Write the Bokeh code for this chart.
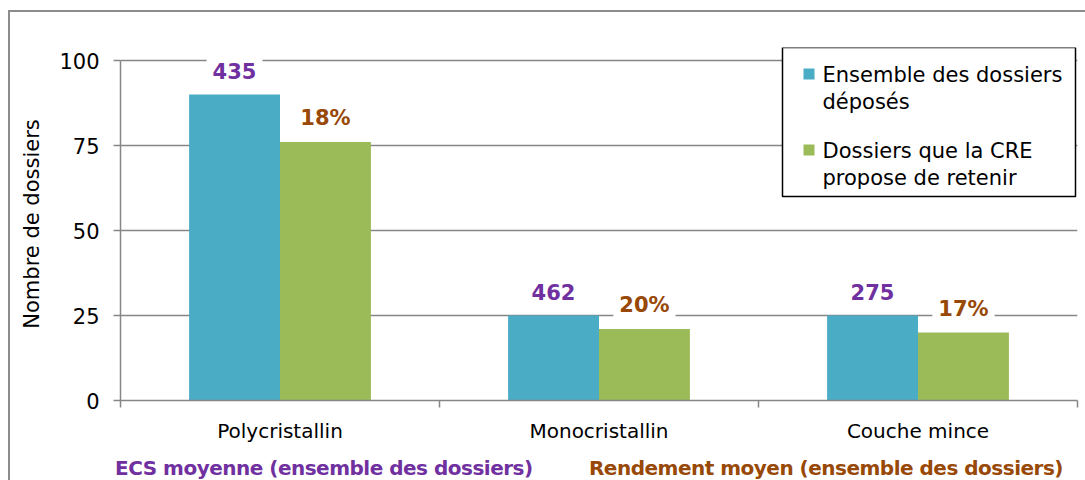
from bokeh.plotting import figure
from bokeh.models import Range1d, FixedTicker, Label, BoxAnnotation, Div
from bokeh.layouts import column
from bokeh.embed import file_html
from bokeh.resources import INLINE

# ---- data ----
categories = ["Polycristallin", "Monocristallin", "Couche mince"]
deposes = [90, 25, 25]          # Ensemble des dossiers déposés
retenus = [76, 21, 20]          # Dossiers que la CRE propose de retenir
ecs_labels = ["435", "462", "275"]
rendement_labels = ["18%", "20%", "17%"]
y_ticks = [0, 25, 50, 75, 100]
legend_lines = [["Ensemble des dossiers", "déposés"], ["Dossiers que la CRE", "propose de retenir"]]
footer_left = "ECS moyenne (ensemble des dossiers)"
footer_right = "Rendement moyen (ensemble des dossiers)"

TEAL = "#4BACC6"
GREEN = "#9BBB59"
PURPLE = "#7030A0"
BROWN = "#984807"
GRID = "#868686"
FONT = "DejaVu Sans"

# ---- layout ----
W, H = 1075, 433
ML, MR, MT, MB = 110, 8, 35, 45
frame_w = W - ML - MR
frame_h = H - MT - MB
px_per_unit_y = 340 / 100.0          # 100 units -> 340 px
ymax = frame_h / px_per_unit_y
ncat = len(categories)
px_per_cat = frame_w / ncat

def dx(px):  # px from frame left -> data x
    return px / px_per_cat

def dy(px):  # px from frame bottom (positive up) -> data y
    return px / px_per_unit_y

p = figure(width=W, height=H, output_backend="svg", toolbar_location=None,
           x_range=Range1d(0, ncat), y_range=Range1d(0, ymax),
           min_border_left=ML, min_border_right=MR, min_border_top=MT, min_border_bottom=MB)
p.outline_line_color = None
p.background_fill_color = "white"
p.border_fill_color = "white"

bar_w = 0.285
centers = [i + 0.5 for i in range(ncat)]
x_dep = [c - bar_w / 2 for c in centers]
x_ret = [c + bar_w / 2 for c in centers]
p.vbar(x=x_dep, top=deposes, width=bar_w, color=TEAL, line_color=None)
p.vbar(x=x_ret, top=retenus, width=bar_w, color=GREEN, line_color=None)

# y axis
p.yaxis.ticker = FixedTicker(ticks=y_ticks)
p.yaxis.bounds = (0, 100)
p.yaxis.axis_line_color = GRID
p.yaxis.axis_line_width = 1.5
p.yaxis.major_tick_line_color = GRID
p.yaxis.major_tick_line_width = 1.5
p.yaxis.major_tick_out = 7
p.yaxis.major_tick_in = 0
p.yaxis.minor_tick_line_color = None
p.yaxis.major_label_text_font = FONT
p.yaxis.major_label_text_font_size = "21px"
p.yaxis.major_label_text_color = "black"
p.yaxis.major_label_standoff = 14
p.yaxis.axis_label = "Nombre de dossiers"
p.yaxis.axis_label_text_font = FONT
p.yaxis.axis_label_text_font_size = "21px"
p.yaxis.axis_label_text_font_style = "normal"
p.yaxis.axis_label_text_color = "black"
p.yaxis.axis_label_standoff = 12

p.ygrid.ticker = FixedTicker(ticks=y_ticks)
p.ygrid.grid_line_color = GRID
p.ygrid.grid_line_width = 1.5
p.xgrid.grid_line_color = None

# x axis
p.xaxis.ticker = FixedTicker(ticks=centers, minor_ticks=list(range(ncat + 1)))
p.xaxis.major_label_overrides = {c: name for c, name in zip(centers, categories)}
p.xaxis.axis_line_color = GRID
p.xaxis.axis_line_width = 1.5
p.xaxis.major_tick_line_color = None
p.xaxis.major_tick_out = 0
p.xaxis.major_tick_in = 0
p.xaxis.minor_tick_line_color = GRID
p.xaxis.minor_tick_line_width = 1.5
p.xaxis.minor_tick_out = 7
p.xaxis.minor_tick_in = 0
p.xaxis.major_label_text_font = FONT
p.xaxis.major_label_text_font_size = "20px"
p.xaxis.major_label_text_color = "black"
p.xaxis.major_label_standoff = 11

# value labels above bars
for x, v, t in zip(x_dep, deposes, ecs_labels):
    p.add_layout(Label(x=x, y=v, y_offset=24, text=t, text_align="center", text_baseline="middle",
                       text_font=FONT, text_font_style="bold", text_font_size="21px",
                       text_color=PURPLE, background_fill_color="white", padding=6))
for x, v, t in zip(x_ret, retenus, rendement_labels):
    p.add_layout(Label(x=x, y=v, y_offset=24, text=t, text_align="center", text_baseline="middle",
                       text_font=FONT, text_font_style="bold", text_font_size="21px",
                       text_color=BROWN, background_fill_color="white", padding=6))

# legend (manual, inside the frame)
p.add_layout(BoxAnnotation(left=dx(662), right=dx(955), top=ymax, bottom=dy(204),
                           fill_color="white", fill_alpha=1.0, line_color="black",
                           line_alpha=1.0, line_width=1.5, level="overlay"))
leg_colors = [TEAL, GREEN]
leg_y = [326, 250]
for lines, col, yy in zip(legend_lines, leg_colors, leg_y):
    p.add_layout(BoxAnnotation(left=dx(683), right=dx(694), top=dy(yy + 6), bottom=dy(yy - 5),
                               fill_color=col, fill_alpha=1.0, line_color=None, level="overlay"))
    for k, line in enumerate(lines):
        p.add_layout(Label(x=dx(702), y=dy(yy - 27 * k), text=line, text_align="left",
                           text_baseline="middle", text_font=FONT, text_font_size="21px",
                           text_color="black", level="overlay"))

# footer texts (real DOM text)
footer = Div(width=W, height=35, text=(
    '<div style="position:relative;width:%dpx;height:35px;font-family:\'DejaVu Sans\';'
    'font-weight:bold;font-size:20px;letter-spacing:-0.5px;line-height:22px;white-space:nowrap">'
    '<span style="position:absolute;left:100px;top:7px;color:%s">%s</span>'
    '<span style="position:absolute;right:27px;top:7px;color:%s">%s</span></div>'
) % (W, PURPLE, footer_left, BROWN, footer_right))

layout = column(p, footer, spacing=0,
                styles={"margin-left": "8px", "margin-top": "10px",
                        "border-left": "2px solid #8c8c8c", "border-top": "2px solid #8c8c8c"})

open("out.html", "w").write(file_html(layout, INLINE))
